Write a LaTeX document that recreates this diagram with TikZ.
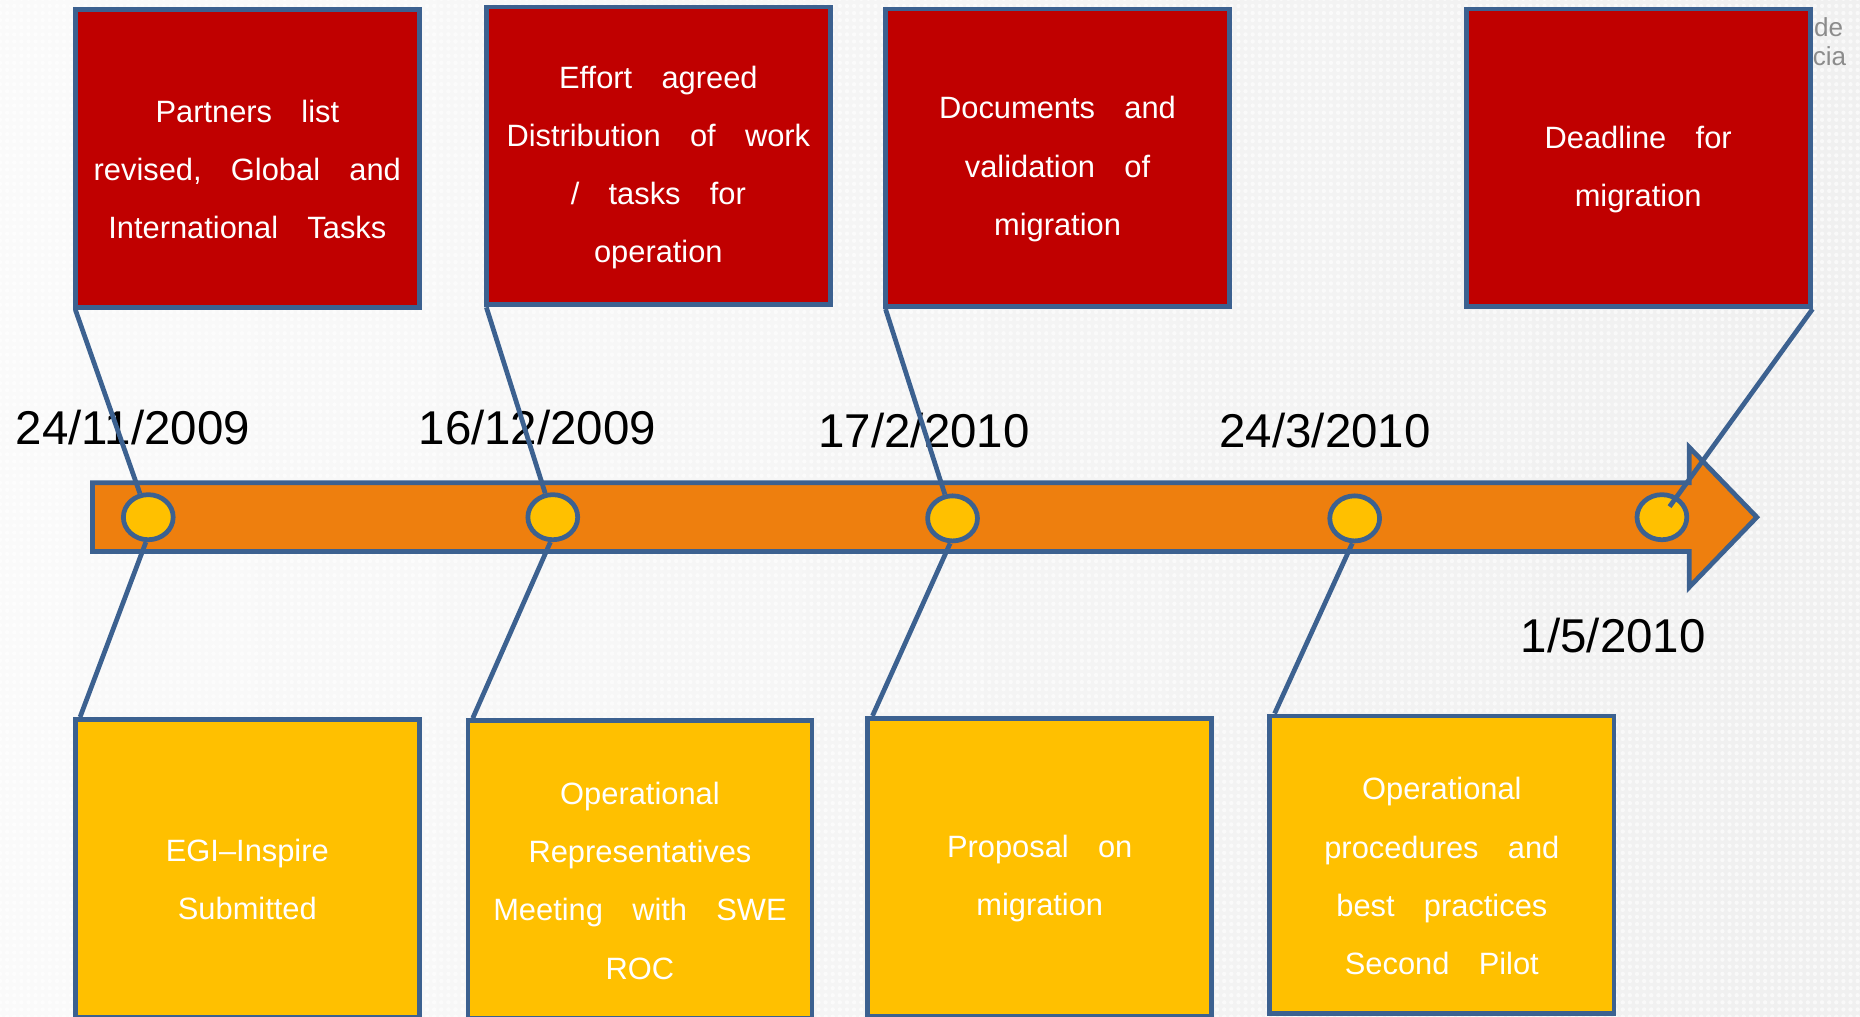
\documentclass[tikz,border=0pt]{standalone}
\usepackage{fontspec}
\setmainfont{Liberation Sans}
\usepackage{tikz}
\usetikzlibrary{arrows.meta}
\usetikzlibrary{calc}
\usetikzlibrary{positioning}
\usetikzlibrary{shapes.geometric}
\usetikzlibrary{patterns.meta}
\definecolor{plan-red}{HTML}{C00000}
\definecolor{plan-gold}{HTML}{FFC000}
\definecolor{plan-orange}{HTML}{EE7F0E}
\definecolor{plan-blue}{HTML}{3C6190}
\definecolor{plan-grey}{HTML}{8C8C8C}
\newcommand{\boxfont}{\fontsize{26}{49}\selectfont}
\newcommand{\boxstart}{\spaceskip=0.95em\xspaceskip=0.95em\relax\rule{0pt}{38pt}}
\tikzset{
  stepbox/.style={draw=plan-blue, line width=4pt, minimum width=290pt, minimum height=251pt,
    text width=282pt, align=center, text=white, font=\boxfont,
    execute at begin node=\boxstart},
  redbox/.style={stepbox, fill=plan-red},
  goldbox/.style={stepbox, fill=plan-gold},
  eventdot/.style={ellipse, draw=plan-blue, line width=4pt, fill=plan-gold,
    minimum width=42pt, minimum height=38pt, inner sep=0pt},
  leader/.style={plan-blue, line width=4pt},
  datelabel/.style={anchor=base, font=\fontsize{40}{48}\selectfont},
}

\begin{document}
\begin{tikzpicture}[x=1pt, y=-1pt]

    % background
    \clip (0,0) rectangle (1568,857);
    \shade[left color=gray!4, right color=gray!12] (0,0) rectangle (1568,857);
    \fill[pattern={Dots[radius=1.8pt, distance=6pt]}, pattern color=white, opacity=0.6] (0,0) rectangle (1568,857);
    \node[anchor=base west, text=plan-grey, font=\fontsize{22}{24}\selectfont, inner sep=0pt] (bgde) at (1529,31) {de};
    \node[anchor=base west, text=plan-grey, font=\fontsize{22}{24}\selectfont, inner sep=0pt] (bgcia) at (1528,55) {cia};

    % done
    \node[redbox] (top1) at (208.5,133.5) {Partners list\\revised, Global and\\International Tasks};
    \node[redbox] (top2) at (555,131.5) {Effort agreed\\Distribution of work\\/ tasks for\\operation};
    \node[redbox] (top3) at (891.5,133) {Documents and\\validation of\\migration};
    \node[redbox] (top4) at (1381,133) {Deadline for\\migration};

    % to do
    \node[goldbox] (bot1) at (208.5,732) {EGI–Inspire\\Submitted};
    \node[goldbox] (bot2) at (539.5,733) {Operational\\Representatives\\Meeting with SWE\\ROC};
    \node[goldbox] (bot3) at (876.5,731) {Proposal on\\migration};
    \node[goldbox] (bot4) at (1215.5,729) {Operational\\procedures and\\best practices\\Second Pilot};

    % time arrow
    \draw[draw=plan-blue, line width=4pt, fill=plan-orange, line join=miter]
        (78,407) -- (1424,407) -- (1424,377) -- (1481,436) -- (1424,495) -- (1424,465) -- (78,465) -- cycle;

    % events
    \node[eventdot] (ev1) at (125,436) {};
    \node[eventdot] (ev2) at (466,436) {};
    \node[eventdot] (ev3) at (803,437) {};
    \node[eventdot] (ev4) at (1142,437) {};
    \node[eventdot] (ev5) at (1401,436) {};

    % dates
    \node[datelabel] (d1) at (112,375) {24/11/2009};
    \node[datelabel] (d2) at (453,375) {16/12/2009};
    \node[datelabel] (d3) at (779,377) {17/2/2010};
    \node[datelabel] (d4) at (1117,377) {24/3/2010};
    \node[datelabel] (d5) at (1360,550) {1/5/2010};

    % leaders
    \draw[leader] ([xshift=2pt]top1.south west) -- (ev1);
    \draw[leader] ([xshift=2pt]top2.south west) -- (ev2);
    \draw[leader] ([xshift=2pt]top3.south west) -- (ev3);
    \draw[leader, shorten >=11pt] (top4.south east) -- (ev5.center);
    \draw[leader] ([xshift=-2pt]ev1.south) -- ([xshift=6pt]bot1.north west);
    \draw[leader] ([xshift=-2pt]ev2.south) -- ([xshift=6pt]bot2.north west);
    \draw[leader] ([xshift=-2pt]ev3.south) -- ([xshift=6pt]bot3.north west);
    \draw[leader] ([xshift=-2pt]ev4.south) -- ([xshift=6pt]bot4.north west);

\end{tikzpicture}
\end{document}
